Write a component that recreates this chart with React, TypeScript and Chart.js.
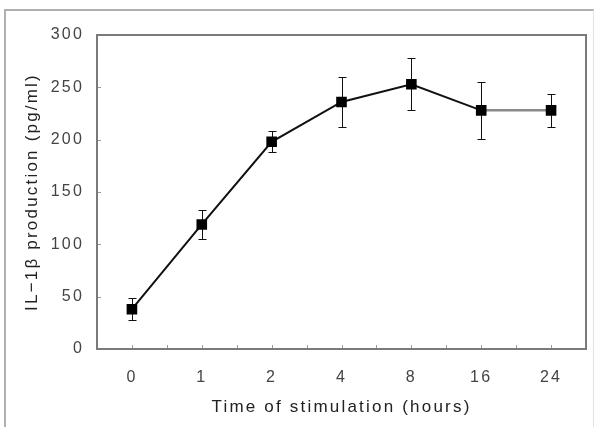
import React, { useEffect, useRef } from 'react';
import { Chart, registerables } from 'chart.js';

Chart.register(...registerables);

const categories = ['0', '1', '2', '4', '8', '16', '24'];
const means = [38, 119, 198, 236, 253, 228, 228];
const errors = [10.5, 13.5, 10, 24, 25, 27, 15.5];
const yMin = 0;
const yMax = 300;
const yStep = 50;
const xTitle = 'Time of stimulation (hours)';
const yTitle = 'IL\u22121\u03b2 production (pg/ml)';

const SPACING = '2.2px';

const decorPlugin = {
  id: 'decor',
  beforeUpdate(chart: any) {
    chart.ctx.letterSpacing = SPACING;
  },
  beforeLayout(chart: any) {
    chart.ctx.letterSpacing = SPACING;
  },
  beforeDraw(chart: any) {
    chart.ctx.letterSpacing = SPACING;
  },
  beforeDatasetsDraw(chart: any) {
    const { ctx, scales } = chart;
    const x = scales.x;
    const y = scales.y;
    ctx.save();
    ctx.strokeStyle = '#111';
    ctx.lineWidth = 1;
    means.forEach((m, i) => {
      const px = Math.round(x.getPixelForValue(i)) + 0.5;
      const top = Math.round(y.getPixelForValue(m + errors[i])) + 0.5;
      const bot = Math.round(y.getPixelForValue(m - errors[i])) + 0.5;
      ctx.beginPath();
      ctx.moveTo(px, top);
      ctx.lineTo(px, bot);
      ctx.moveTo(px - 4, top);
      ctx.lineTo(px + 4, top);
      ctx.moveTo(px - 4, bot);
      ctx.lineTo(px + 4, bot);
      ctx.stroke();
    });
    ctx.restore();
  },
  afterDraw(chart: any) {
    const { ctx, chartArea: a, scales } = chart;
    const x = scales.x;
    const y = scales.y;
    ctx.save();
    ctx.strokeStyle = '#999';
    ctx.lineWidth = 1;
    ctx.beginPath();
    for (let v = yMin; v <= yMax; v += yStep) {
      const py = Math.round(y.getPixelForValue(v)) + 0.5;
      ctx.moveTo(a.left, py);
      ctx.lineTo(a.left + 4, py);
    }
    for (let i = 0; i < categories.length; i++) {
      const px = Math.round(x.getPixelForValue(i)) + 0.5;
      ctx.moveTo(px, a.bottom);
      ctx.lineTo(px, a.bottom - 4);
      if (i < categories.length - 1) {
        const mid = Math.round((x.getPixelForValue(i) + x.getPixelForValue(i + 1)) / 2) + 0.5;
        ctx.moveTo(mid, a.bottom);
        ctx.lineTo(mid, a.bottom - 4);
      }
    }
    ctx.stroke();
    ctx.strokeStyle = '#7a7a7a';
    ctx.lineWidth = 2;
    ctx.strokeRect(a.left, a.top, a.right - a.left, a.bottom - a.top);
    ctx.restore();
  },
};

export default function App() {
  const ref = useRef<HTMLCanvasElement | null>(null);

  useEffect(() => {
    if (!ref.current) return;
    const chart = new Chart(ref.current, {
      type: 'line',
      data: {
        labels: categories,
        datasets: [
          {
            data: means,
            borderColor: '#111',
            borderWidth: 2,
            backgroundColor: '#000',
            pointStyle: 'rect',
            pointRadius: 7.5,
            pointBorderWidth: 0,
            pointBackgroundColor: '#000',
            tension: 0,
            segment: {
              borderColor: (c: any) => (c.p0DataIndex === categories.length - 2 ? '#8a8a8a' : '#111'),
              borderWidth: (c: any) => (c.p0DataIndex === categories.length - 2 ? 2.5 : 2),
            } as any,
          },
        ],
      },
      options: {
        animation: false,
        responsive: false,
        devicePixelRatio: 1,
        layout: { padding: { left: 0, top: 35, right: 16, bottom: 0 } },
        plugins: { legend: { display: false }, tooltip: { enabled: false } },
        scales: {
          x: {
            type: 'category',
            offset: true,
            grid: { display: false, drawTicks: false },
            border: { display: false },
            ticks: {
              color: '#444',
              padding: 19,
              font: { family: 'Liberation Sans, Arial, sans-serif', size: 16 },
              maxRotation: 0,
            },
            title: {
              display: true,
              text: xTitle,
              color: '#222',
              font: { family: 'Liberation Sans, Arial, sans-serif', size: 17 },
              padding: { top: 0, bottom: 9 },
            },
            afterFit: (s: any) => {
              s.height = 78;
            },
          },
          y: {
            min: yMin,
            max: yMax,
            grid: { display: false, drawTicks: false },
            border: { display: false },
            ticks: {
              stepSize: yStep,
              color: '#444',
              padding: 13,
              font: { family: 'Liberation Sans, Arial, sans-serif', size: 16 },
            },
            title: {
              display: true,
              text: yTitle,
              color: '#222',
              font: { family: 'Liberation Sans, Arial, sans-serif', size: 17 },
              padding: { top: 22, bottom: 0 },
            },
            afterFit: (s: any) => {
              s.width = 97;
            },
          },
        },
      },
      plugins: [decorPlugin],
    });
    return () => chart.destroy();
  }, []);

  return (
    <div style={{ position: 'fixed', left: 0, top: 0, width: 602, height: 427, background: '#fff', overflow: 'hidden' }}>
      <canvas ref={ref} width={602} height={427} style={{ position: 'absolute', left: 0, top: 0, width: 602, height: 427 }} />
      <div
        style={{
          position: 'absolute',
          left: 4,
          top: 9,
          width: 590,
          height: 440,
          borderLeft: '2px solid #b0b0b0',
          borderTop: '2px solid #b0b0b0',
          borderRight: '1px solid #e2e2e2',
          boxSizing: 'border-box',
          pointerEvents: 'none',
        }}
      />
    </div>
  );
}
